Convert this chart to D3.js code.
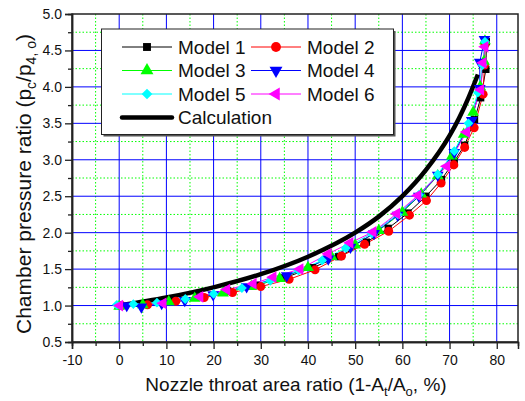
<html lang="en">
  <head>
    <meta charset="utf-8">
    <title>Chamber pressure ratio</title>
    <script src="https://d3js.org/d3.v7.min.js"></script>
    <style>
      body { margin: 0; background: #fff; }
      text { font-family: "Liberation Sans", Arial, sans-serif; fill: #111; }
    </style>
  </head>
  <body>
    <script type="text/javascript">
      var w = 525;
      var h = 401;

      // data
      var model1 = [[0,1.0],[5,1.02],[11,1.07],[17,1.12],[23,1.2],[29,1.28],[35,1.38],[41,1.52],[46.5,1.67],[52.4,1.87],[57,2.06],[61.2,2.27],[65,2.5],[68.3,2.73],[71,2.98],[73.2,3.2],[75.3,3.55],[76.6,3.85],[77.7,4.24],[77.8,4.62]];
      var model2 = [[0.5,1.0],[6,1.01],[12,1.06],[18,1.11],[24,1.18],[30,1.26],[36,1.36],[41.5,1.49],[47.1,1.68],[52,1.84],[57.1,2.02],[61.5,2.24],[65.1,2.44],[68.2,2.68],[70.9,2.93],[73.2,3.17],[75.2,3.44],[77.1,3.9],[77.4,4.3],[77.5,4.58]];
      var model3 = [[0,0.99],[5,1.01],[10.5,1.05],[16,1.1],[22,1.17],[28,1.26],[34,1.37],[40,1.52],[45,1.67],[50,1.83],[55,2.03],[60,2.28],[64,2.53],[67.5,2.78],[70.5,3.05],[73,3.35],[75,3.65],[76.5,4.0],[77.3,4.35],[77.5,4.63]];
      var model4 = [[1.6,1.0],[4.7,0.98],[9,1.03],[13.9,1.07],[19.9,1.15],[27,1.26],[35.5,1.41],[44.3,1.64],[49,1.8],[54,1.99],[59,2.24],[63.5,2.5],[67.5,2.79],[71,3.1],[74.7,3.54],[76.4,3.98],[76.4,4.34],[77.4,4.65]];
      var model5 = [[-0.5,1.01],[3,1.02],[8,1.04],[14,1.09],[20,1.16],[26,1.24],[32,1.34],[38,1.48],[43,1.62],[48,1.79],[53.5,1.99],[59,2.25],[63.5,2.52],[67.5,2.8],[71,3.12],[74,3.5],[76,3.92],[77,4.3],[77.5,4.62]];
      var model6 = [[0.1,1.0],[9.3,1.03],[17.1,1.12],[22.8,1.22],[28.4,1.3],[32.6,1.39],[38.3,1.5],[44.3,1.71],[48.9,1.86],[53.8,2.01],[58.8,2.26],[63.3,2.51],[69.4,2.91],[73.6,3.38],[76.6,3.96],[77.1,4.33],[77.5,4.55]];
      var calculation = [[0,1.0],[10,1.11],[20,1.25],[30,1.43],[40,1.67],[50,2.0],[55,2.22],[60,2.5],[65,2.86],[70,3.33],[72,3.57],[74,3.85],[76,4.17]];

      var modelNames = ["Model 1", "Model 2", "Model 3", "Model 4", "Model 5", "Model 6"];
      var modelColors = ["#000000", "#ff0000", "#00ff00", "#0000ff", "#00ffff", "#ff00ff"];
      var models = [model1, model2, model3, model4, model5, model6];

      var xTicks = [-10, 0, 10, 20, 30, 40, 50, 60, 70, 80];
      var xMinor = [-5, 5, 15, 25, 35, 45, 55, 65, 75];
      var yTicks = [0.5, 1.0, 1.5, 2.0, 2.5, 3.0, 3.5, 4.0, 4.5, 5.0];
      var yMinor = [0.75, 1.25, 1.75, 2.25, 2.75, 3.25, 3.75, 4.25, 4.75];

      var pl = 72, pr = 518, pt = 14, pb = 342;

      var xScale = d3.scaleLinear().domain([-10, 84.5]).range([pl, pr]);
      var yScale = d3.scaleLinear().domain([0.5, 5.0]).range([pb, pt]);

      var svg = d3.select("body").append("svg")
          .attr("width", w)
          .attr("height", h);

      // grid, minor dotted green
      svg.append("g").selectAll("line").data(xMinor).enter().append("line")
          .attr("x1", d => xScale(d)).attr("x2", d => xScale(d))
          .attr("y1", pt).attr("y2", pb)
          .attr("stroke", "#00ff00").attr("stroke-width", 1)
          .attr("stroke-dasharray", "1.5,2");
      svg.append("g").selectAll("line").data(yMinor).enter().append("line")
          .attr("y1", d => yScale(d)).attr("y2", d => yScale(d))
          .attr("x1", pl).attr("x2", pr)
          .attr("stroke", "#00ff00").attr("stroke-width", 1)
          .attr("stroke-dasharray", "1.5,2");
      // major solid blue
      svg.append("g").selectAll("line").data(xTicks.slice(1)).enter().append("line")
          .attr("x1", d => xScale(d)).attr("x2", d => xScale(d))
          .attr("y1", pt).attr("y2", pb)
          .attr("stroke", "#0000ff").attr("stroke-width", 1);
      svg.append("g").selectAll("line").data(yTicks.slice(1, -1)).enter().append("line")
          .attr("y1", d => yScale(d)).attr("y2", d => yScale(d))
          .attr("x1", pl).attr("x2", pr)
          .attr("stroke", "#0000ff").attr("stroke-width", 1);

      // frame
      svg.append("rect")
          .attr("x", pl).attr("y", pt)
          .attr("width", pr - pl).attr("height", pb - pt)
          .attr("fill", "none").attr("stroke", "#222").attr("stroke-width", 1.5);

      // axes
      var xAxis = d3.axisBottom(xScale).tickValues(xTicks).tickSize(7).tickPadding(6)
          .tickFormat(d => String(d));
      var xAxisMinor = d3.axisBottom(xScale).tickValues(xMinor).tickSize(4).tickFormat("");
      var yAxis = d3.axisLeft(yScale).tickValues(yTicks).tickSize(7).tickPadding(3)
          .tickFormat(d3.format(".1f"));
      var yAxisMinor = d3.axisLeft(yScale).tickValues(yMinor).tickSize(4).tickFormat("");

      [[xAxis, "x"], [xAxisMinor, "x"], [yAxis, "y"], [yAxisMinor, "y"]].forEach(function(a) {
        var g = svg.append("g")
            .attr("transform", a[1] == "x" ? "translate(0," + pb + ")" : "translate(" + pl + ",0)")
            .call(a[0]);
        g.select(".domain").attr("stroke", "#222").attr("stroke-width", 1.5);
        g.selectAll(".tick line").attr("stroke", "#222").attr("stroke-width", 1.3);
        g.selectAll(".tick text")
            .attr("font-family", "Liberation Sans, Arial, sans-serif")
            .attr("font-size", 14).attr("fill", "#111");
      });

      // calculation curve
      var line = d3.line()
          .x(d => xScale(d[0]))
          .y(d => yScale(d[1]));
      svg.append("path")
          .datum(calculation)
          .attr("d", line.curve(d3.curveMonotoneX))
          .attr("fill", "none").attr("stroke", "#000").attr("stroke-width", 4.5);

      // model symbols
      var symbolTypes = [d3.symbolSquare, d3.symbolCircle, d3.symbolTriangle, d3.symbolTriangle, d3.symbolSquare, d3.symbolTriangle];
      var symbolRotate = [0, 0, 0, 180, 45, -90];
      var symbolSizes = [52, 64, 60, 60, 48, 60];

      var plain = d3.line().x(d => xScale(d[0])).y(d => yScale(d[1]));
      models.forEach(function(m, i) {
        svg.append("path")
            .datum(m)
            .attr("d", plain)
            .attr("fill", "none").attr("stroke", modelColors[i]).attr("stroke-width", 1);
      });
      models.forEach(function(m, i) {
        svg.append("g").selectAll("path").data(m).enter().append("path")
            .attr("d", d3.symbol().type(symbolTypes[i]).size(symbolSizes[i]))
            .attr("transform", d => "translate(" + xScale(d[0]) + "," + yScale(d[1]) + ") rotate(" + symbolRotate[i] + ")")
            .attr("fill", modelColors[i]);
      });

      // legend
      var lg = svg.append("g");
      lg.append("rect").attr("x", 103.5).attr("y", 31).attr("width", 292).attr("height", 105.5)
          .attr("fill", "#555");
      lg.append("rect").attr("x", 101.5).attr("y", 29).attr("width", 292).attr("height", 105.5)
          .attr("fill", "#fff").attr("stroke", "#222").attr("stroke-width", 1);
      var colX = [122, 251];
      var rowY = [47, 70.5, 94, 117.5];
      modelNames.forEach(function(name, i) {
        var cx = colX[i % 2], cy = rowY[Math.floor(i / 2)];
        lg.append("line").attr("x1", cx).attr("x2", cx + 50).attr("y1", cy).attr("y2", cy)
            .attr("stroke", modelColors[i]).attr("stroke-width", 1);
        lg.append("path")
            .attr("d", d3.symbol().type(symbolTypes[i]).size(symbolSizes[i] * 1.2))
            .attr("transform", "translate(" + (cx + 25) + "," + cy + ") rotate(" + symbolRotate[i] + ")")
            .attr("fill", modelColors[i]);
        lg.append("text").attr("x", cx + 56).attr("y", cy).attr("dy", "0.35em")
            .attr("font-size", 19).text(name);
      });
      lg.append("line").attr("x1", colX[0]).attr("x2", colX[0] + 50)
          .attr("y1", rowY[3]).attr("y2", rowY[3])
          .attr("stroke", "#000").attr("stroke-width", 4.5).attr("stroke-linecap", "round");
      lg.append("text").attr("x", colX[0] + 56).attr("y", rowY[3]).attr("dy", "0.35em")
          .attr("font-size", 19).text("Calculation");

      // axis titles
      var xt = svg.append("text").attr("x", (pl + pr) / 2 + 1).attr("y", 391)
          .attr("text-anchor", "middle").attr("font-size", 19);
      xt.append("tspan").text("Nozzle throat area ratio (1-A");
      xt.append("tspan").attr("font-size", 13).attr("dy", 5).text("t");
      xt.append("tspan").attr("dy", -5).text("/A");
      xt.append("tspan").attr("font-size", 13).attr("dy", 5).text("o");
      xt.append("tspan").attr("dy", -5).text(", %)");

      var yt = svg.append("text")
          .attr("transform", "translate(31," + ((pt + pb) / 2 + 6) + ") rotate(-90)")
          .attr("text-anchor", "middle").attr("font-size", 21);
      yt.append("tspan").text("Chamber pressure ratio (p");
      yt.append("tspan").attr("font-size", 14).attr("dy", 5).text("c");
      yt.append("tspan").attr("dy", -5).text("/p");
      yt.append("tspan").attr("font-size", 14).attr("dy", 5).text("4, o");
      yt.append("tspan").attr("dy", -5).text(")");
    </script>
  </body>
</html>
